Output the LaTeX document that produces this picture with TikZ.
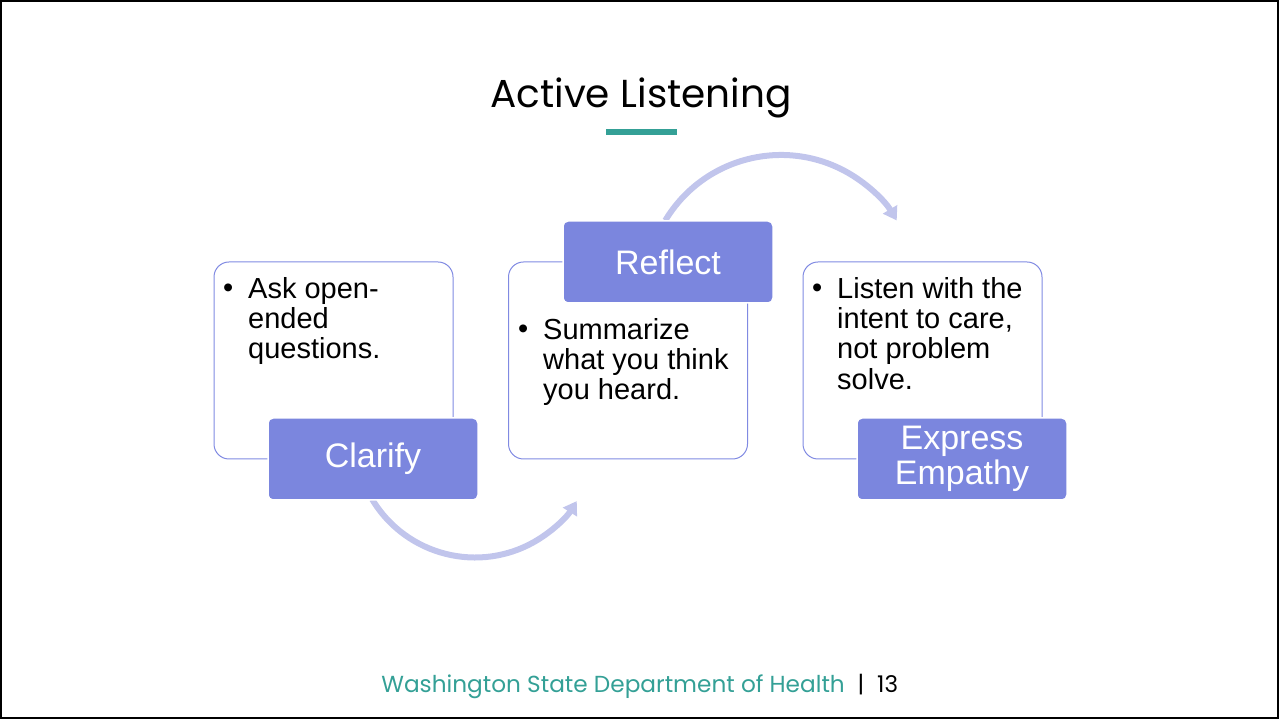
\documentclass[tikz,border=0pt]{standalone}
\usepackage{fontspec}
\setmainfont{Liberation Sans}
\newfontfamily\headfont{Poppins}
\usetikzlibrary{arrows.meta}
\definecolor{teal1}{RGB}{52,160,150}
\definecolor{stepfill}{RGB}{123,134,222}
\definecolor{stepline}{RGB}{128,138,226}
\definecolor{flowcol}{RGB}{193,197,236}

\begin{document}
\begin{tikzpicture}[x=1pt,y=1pt,
  card/.style={draw=stepline, line width=1pt, rounded corners=15pt,
    minimum width=239pt, minimum height=197pt, inner sep=0pt},
  tab/.style={fill=stepfill, draw=white, line width=1.5pt, rounded corners=5pt,
    minimum width=210pt, minimum height=82pt, inner sep=0pt, text=white,
    font=\fontsize{34}{35}\selectfont, align=center},
  bodytext/.style={anchor=north west, inner sep=0pt, align=left,
    font=\fontsize{29}{30.3}\selectfont},
  dot/.style={anchor=base west, inner sep=0pt, font=\fontsize{29}{30.3}\selectfont},
  flow/.style={draw=flowcol, line width=6pt, -{Triangle[length=13pt,width=16pt]}}
]
\useasboundingbox (0,0) rectangle (1279,719);
\draw[line width=2pt] (1,1) rectangle (1278,718);

% heading
\node[anchor=base, inner sep=0pt, font=\headfont\fontsize{39}{43}\selectfont] (title) at (641,611) {Active Listening};
\node[fill=teal1, minimum width=71pt, minimum height=6pt, inner sep=0pt] (bar) at (641.5,587) {};

% outlined cards
\node[card] (card1) at (333.5,358.5) {};
\node[card] (card2) at (628,358.5) {};
\node[card] (card3) at (922.5,358.5) {};

% curved flow arrows (drawn beneath the tabs)
\coordinate (hubA) at (475,281.5);
\coordinate (hubB) at (781,429);
\draw[flow] (hubA) ++(211:120) arc[start angle=211, end angle=328, radius=120];
\draw[flow] (hubB) ++(149:135) arc[start angle=149, end angle=31, radius=135];

% filled tabs
\node[tab] (clarify) at (373,260) {Clarify};
\node[tab] (reflect) at (668,457) {Reflect};
\node[tab] (empathy) at (962,260) {Express\\Empathy};

% bullet texts
\node[dot] (b1) at (223,421) {\textbullet};
\node[bodytext] (t1) at (248,442.2) {\strut Ask open-\\ended\\questions.};
\node[dot] (b2) at (518,380) {\textbullet};
\node[bodytext] (t2) at (543,401.2) {\strut Summarize\\what you think\\you heard.};
\node[dot] (b3) at (812,421) {\textbullet};
\node[bodytext] (t3) at (837,442.2) {\strut Listen with the\\intent to care,\\not problem\\solve.};

% footer
\node[anchor=base east, inner sep=0pt, text=teal1, font=\headfont\fontsize{23.2}{25}\selectfont] (org) at (845,26) {Washington State Department of Health};
\node[anchor=base, inner sep=0pt, font=\headfont\fontsize{23}{25}\selectfont] (sep) at (861,26) {|};
\node[anchor=base west, inner sep=0pt, font=\headfont\fontsize{23}{25}\selectfont] (page) at (877,26) {13};
\end{tikzpicture}
\end{document}
